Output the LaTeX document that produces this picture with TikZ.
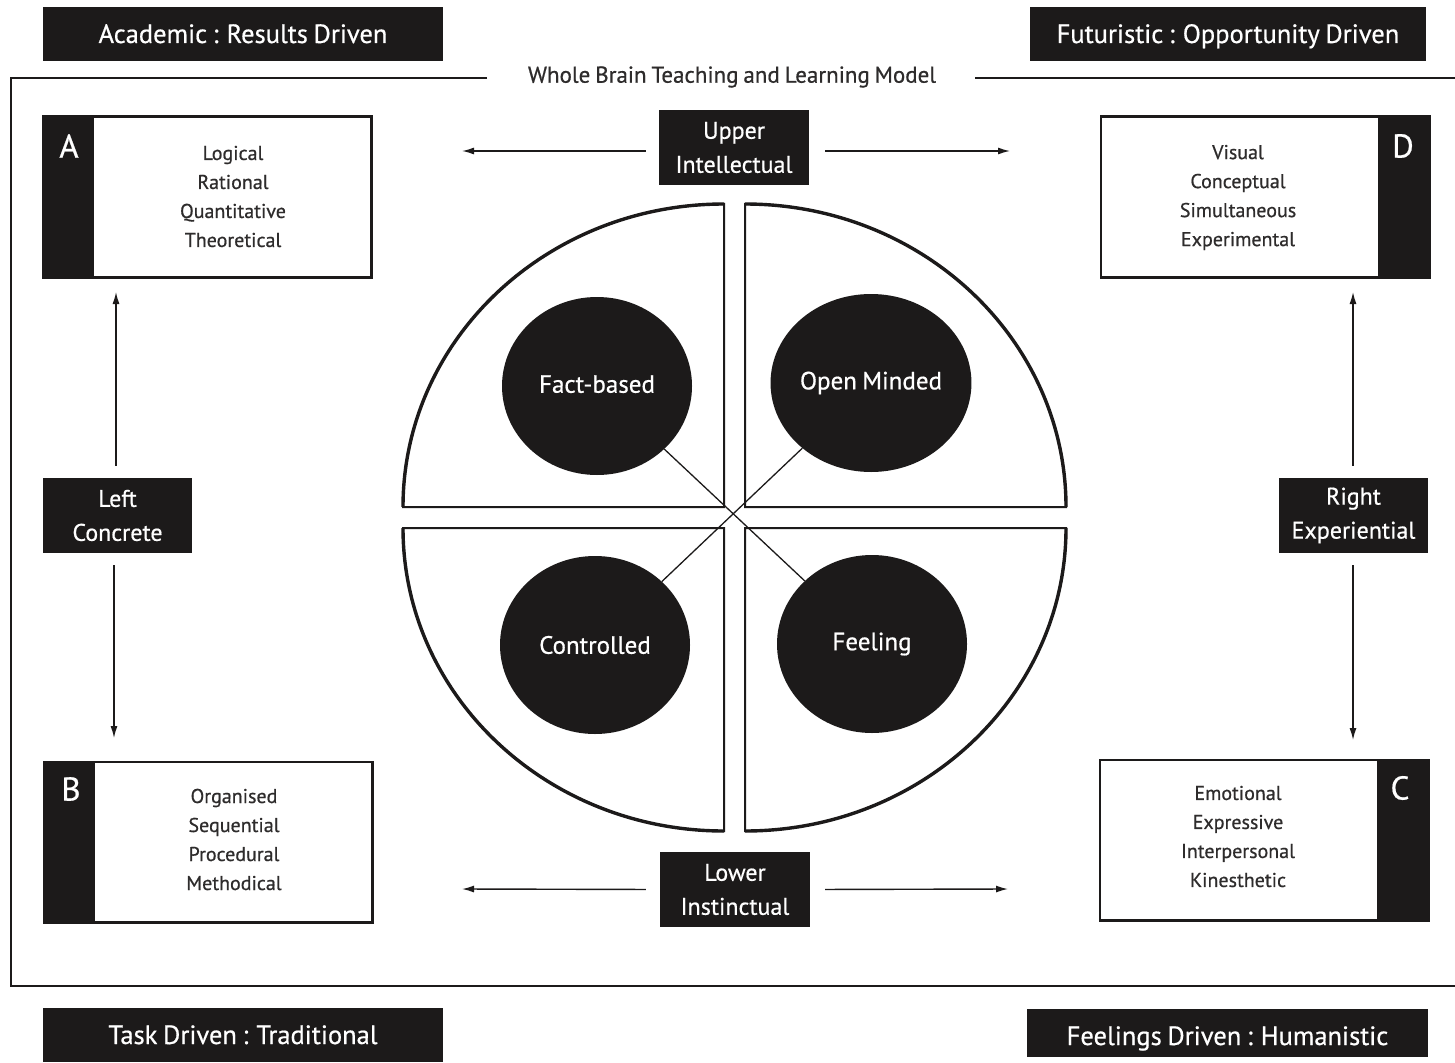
\documentclass[tikz,border=0pt]{standalone}
\usepackage{fontspec}
\setmainfont{PT Sans}[FakeBold=0.6, WordSpace=0.8]
\usetikzlibrary{arrows.meta,shapes.geometric}
\definecolor{ink}{HTML}{1C1A1A}
\definecolor{txt}{HTML}{2E2C2C}
\tikzset{
  bar/.style={fill=ink, text=white, inner sep=0pt, text height=18pt, text depth=0pt, font=\fontsize{26.5}{30}\selectfont},
  tagbox/.style={fill=ink, text=white, inner sep=0pt, minimum width=150pt, minimum height=75pt, align=center, font=\fontsize{24}{34}\selectfont},
  listbox/.style={draw=ink, line width=1.5pt, fill=white, minimum width=328pt, minimum height=160pt, inner sep=0pt},
  listtext/.style={text=txt, align=center, inner sep=0pt, font=\fontsize{20}{29}\selectfont},
  letter/.style={text=white, inner sep=0pt, font=\fontsize{33}{36}\selectfont},
  blob/.style={ellipse, fill=ink, text=white, minimum width=190pt, minimum height=178pt, inner sep=0pt, font=\fontsize{25}{28}\selectfont},
  quad/.style={draw=ink, line width=2pt, fill=white, line join=miter},
  rim/.style={draw=ink, line width=3.4pt},
  arr/.style={draw=ink, line width=1.4pt, -{Latex[length=12pt,width=7pt]}},
  frame/.style={draw=ink, line width=1.5pt},
  spoke/.style={draw=ink, line width=1.3pt}
}
\begin{document}
\begin{tikzpicture}[x=1pt,y=-1pt]
\useasboundingbox (0,0) rectangle (1455,1062);
\fill[white] (0,0) rectangle (1455,1062);

% corner bars
\node[bar, minimum width=400pt, minimum height=54pt] (acad) at (243,34) {Academic : Results Driven};
\node[bar, minimum width=396pt, minimum height=54pt] (futu) at (1228,34) {Futuristic : Opportunity Driven};
\node[bar, minimum width=400pt, minimum height=54pt] (task) at (243,1035) {Task Driven : Traditional};
\node[bar, minimum width=401pt, minimum height=48pt, text height=24pt] (feelbar) at (1227.5,1033) {Feelings Driven : Humanistic};

% frame
\node[text=txt, inner sep=0pt, font=\fontsize{23}{26}\selectfont] (title) at (732,77) {Whole Brain Teaching and Learning Model};
\draw[frame] (487,78) -- (11,78) -- (11,986) -- (1455,986);
\draw[frame] (975,78) -- (1455,78);

% quadrant boxes
\node[listbox] (boxA) at (207,197) {};
\fill[ink] (boxA.north west) rectangle ++(52,160);
\draw[draw=ink, line width=1.5pt] (boxA.north west) rectangle (boxA.south east);
\node[letter] (letA) at (69,146) {A};
\node[listtext] (txtA) at (233,196.5) {Logical\\Rational\\Quantitative\\Theoretical};

\node[listbox] (boxB) at (208,842) {};
\fill[ink] (boxB.north west) rectangle ++(52,160);
\draw[draw=ink, line width=1.5pt] (boxB.north west) rectangle (boxB.south east);
\node[letter] (letB) at (71,789) {B};
\node[listtext] (txtB) at (234,839.5) {Organised\\Sequential\\Procedural\\Methodical};

\node[listbox] (boxD) at (1265,197) {};
\fill[ink] (boxD.north east) rectangle ++(-52,160);
\draw[draw=ink, line width=1.5pt] (boxD.north west) rectangle (boxD.south east);
\node[letter] (letD) at (1403,146) {D};
\node[listtext] (txtD) at (1238,197.5) {Visual\\Conceptual\\Simultaneous\\Experimental};

\node[listbox] (boxC) at (1264,840) {};
\fill[ink] (boxC.north east) rectangle ++(-52,160);
\draw[draw=ink, line width=1.5pt] (boxC.north west) rectangle (boxC.south east);
\node[letter] (letC) at (1400,788) {C};
\node[listtext] (txtC) at (1238,836.5) {Emotional\\Expressive\\Interpersonal\\Kinesthetic};

% tag boxes
\node[tagbox] (upper) at (734,147.5) {Upper\\Intellectual};
\node[tagbox] (lower) at (735,889.5) {Lower\\Instinctual};
\node[tagbox, minimum width=149pt] (left) at (117.5,515.5) {Left\\Concrete};
\node[tagbox, minimum width=149pt] (right) at (1353.5,515.5) {Right\\Experiential};

% arrow ends
\coordinate (ulE) at (462,151);
\coordinate (urE) at (1010,151);
\coordinate (llE) at (462,889);
\coordinate (lrE) at (1008,889);
\coordinate (luE) at (116,292);
\coordinate (ldE) at (114,738);
\coordinate (ruE) at (1353,292);
\coordinate (rdE) at (1353,740);

\draw[arr, shorten <=13pt] ([yshift=-3.5pt]upper.west) -- (ulE);
\draw[arr, shorten <=16pt] ([yshift=-3.5pt]upper.east) -- (urE);
\draw[arr, shorten <=14pt] (lower.west) -- (llE);
\draw[arr, shorten <=15pt] (lower.east) -- (lrE);
\draw[arr, shorten <=12pt] ([xshift=-1.5pt]left.north) -- (luE);
\draw[arr, shorten <=12pt] ([xshift=-3.5pt]left.south) -- (ldE);
\draw[arr, shorten <=12pt] ([xshift=-0.5pt]right.north) -- (ruE);
\draw[arr, shorten <=12pt] ([xshift=-0.5pt]right.south) -- (rdE);

% brain quadrants
\path[quad] (724,507) -- (403,507) arc[start angle=180,end angle=270,x radius=321,y radius=303] -- cycle;
\path[quad] (745,507) -- (745,204) arc[start angle=270,end angle=360,x radius=321,y radius=303] -- cycle;
\path[quad] (724,528) -- (403,528) arc[start angle=180,end angle=90,x radius=321,y radius=303] -- cycle;
\path[quad] (745,528) -- (1066,528) arc[start angle=0,end angle=90,x radius=321,y radius=303] -- cycle;
\draw[rim] (403,507) arc[start angle=180,end angle=270,x radius=321,y radius=303];
\draw[rim] (745,204) arc[start angle=270,end angle=360,x radius=321,y radius=303];
\draw[rim] (403,528) arc[start angle=180,end angle=90,x radius=321,y radius=303];
\draw[rim] (1066,528) arc[start angle=0,end angle=90,x radius=321,y radius=303];

% thinking styles
\node[blob] (fact) at (597,386) {\raisebox{4pt}{Fact-based}};
\node[blob] (open) at (871,383) {Open Minded};
\node[blob] (ctrl) at (595,645) {Controlled};
\node[blob] (feel) at (872,644) {Feeling};
\draw[spoke] (fact) -- (feel);
\draw[spoke] (open) -- (ctrl);
\end{tikzpicture}
\end{document}
